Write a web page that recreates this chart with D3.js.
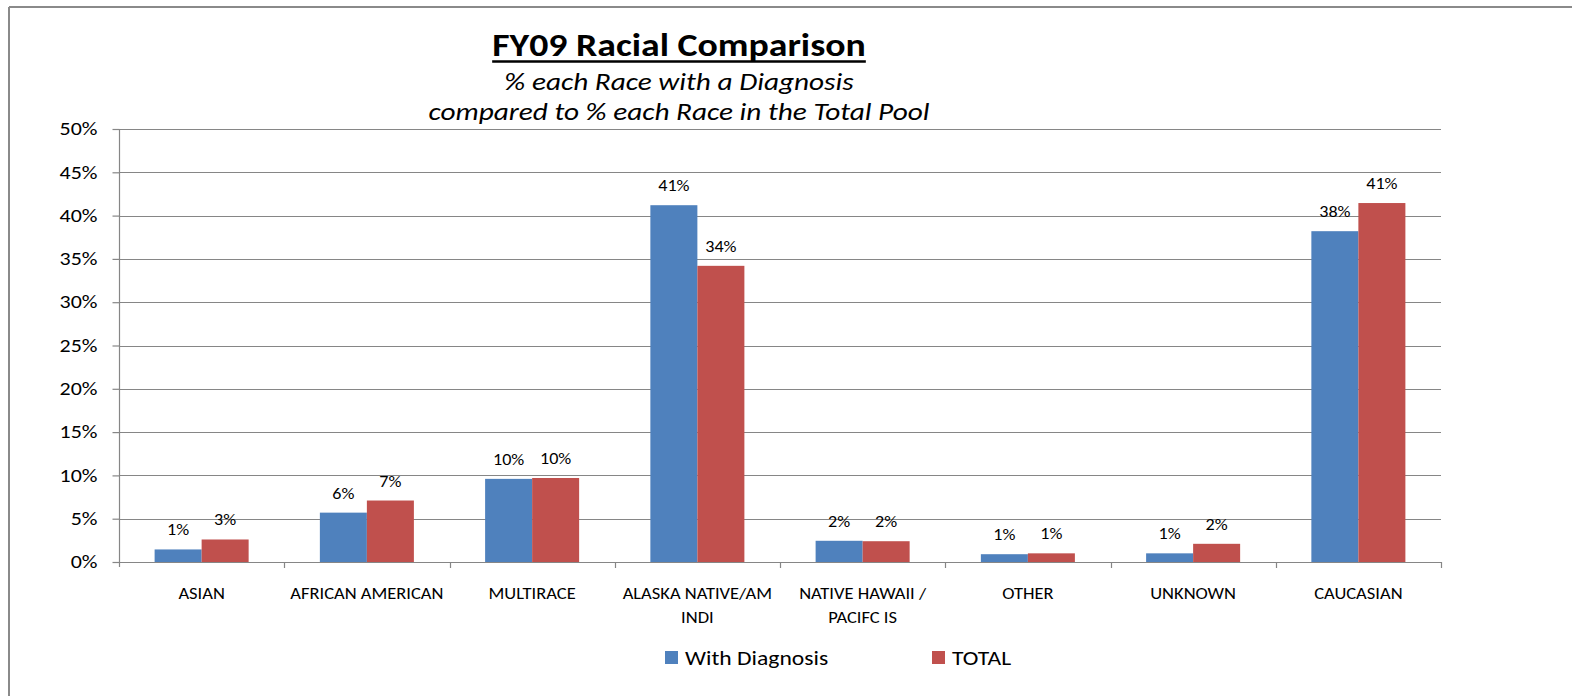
<!DOCTYPE html>
<html>
<head>
<meta charset="utf-8">
<script src="https://cdn.jsdelivr.net/npm/d3@7/dist/d3.min.js"></script>
<style>
  html, body { margin: 0; padding: 0; background: #fff; }
  svg { display: block; }
  text { font-family: Calibri, Carlito, Lato, "Noto Sans", sans-serif; fill: #000; }
</style>
</head>
<body>
<svg id="chart" width="1572" height="696"></svg>
<script>
// ---- data ----
const categories = ["ASIAN", "AFRICAN AMERICAN", "MULTIRACE", "ALASKA NATIVE/AM INDI",
                    "NATIVE HAWAII / PACIFC IS", "OTHER", "UNKNOWN", "CAUCASIAN"];
const seriesNames = ["With Diagnosis", "TOTAL"];
const withDiagnosis = [0.0145, 0.057, 0.096, 0.412, 0.0245, 0.009, 0.010, 0.382];
const totalPool     = [0.026, 0.071, 0.097, 0.342, 0.024, 0.010, 0.021, 0.4145];
const yTicks = [0, 0.05, 0.10, 0.15, 0.20, 0.25, 0.30, 0.35, 0.40, 0.45, 0.50];
const titleText = "FY09 Racial Comparison";
const subtitleLines = ["% each Race with a Diagnosis", "compared to % each Race in the Total Pool"];

// ---- layout ----
const colors = ["#4F81BD", "#C0504D"];
const gridColor = "#868686";
const plot = { left: 119, right: 1441, top: 129, bottom: 562 };

// widen glyphs horizontally (reference text is horizontally stretched)
function stretch(sel, f) {
  sel.each(function () {
    const L = this.getComputedTextLength();
    this.setAttribute("textLength", L * f);
    this.setAttribute("lengthAdjust", "spacingAndGlyphs");
  });
  return sel;
}

const svg = d3.select("#chart");
svg.append("rect").attr("width", 1572).attr("height", 696).attr("fill", "#fff");

// outer border (top and left visible)
svg.append("line").attr("x1", 9).attr("x2", 1572).attr("y1", 7).attr("y2", 7)
  .attr("stroke", "#8a8a8a").attr("stroke-width", 2);
svg.append("line").attr("x1", 9).attr("x2", 9).attr("y1", 7).attr("y2", 696)
  .attr("stroke", "#8a8a8a").attr("stroke-width", 2);

const x = d3.scaleBand().domain(categories)
  .range([plot.left, plot.right]).paddingInner(0.431).paddingOuter(0.2155);
const x1 = d3.scaleBand().domain(seriesNames).range([0, x.bandwidth()]);
const y = d3.scaleLinear().domain([0, 0.5]).range([plot.bottom, plot.top]);

// gridlines
svg.append("g").selectAll("line").data(yTicks.filter(d => d > 0)).join("line")
  .attr("x1", plot.left).attr("x2", plot.right)
  .attr("y1", d => Math.round(y(d)) + 0.5).attr("y2", d => Math.round(y(d)) + 0.5)
  .attr("stroke", gridColor).attr("stroke-width", 1.2);

// y axis
const yAxis = svg.append("g").attr("transform", `translate(${plot.left + 0.5},0)`)
  .call(d3.axisLeft(y).tickValues(yTicks).tickFormat(d3.format(".0%")).tickSize(7).tickSizeOuter(0).tickPadding(15));
yAxis.select(".domain").remove();
yAxis.selectAll(".tick line").attr("stroke", gridColor).attr("stroke-width", 1.2);
yAxis.selectAll(".tick text").attr("font-size", 18).attr("font-family", null).attr("fill", "#000");
stretch(yAxis.selectAll(".tick text"), 1.22);
svg.append("line").attr("x1", plot.left + 0.5).attr("x2", plot.left + 0.5)
  .attr("y1", plot.top).attr("y2", plot.bottom + 5)
  .attr("stroke", gridColor).attr("stroke-width", 1.2);

// bars
const data = categories.map((c, i) => ({ cat: c, vals: [withDiagnosis[i], totalPool[i]] }));
const groups = svg.append("g").selectAll("g").data(data).join("g")
  .attr("transform", d => `translate(${x(d.cat)},0)`);
groups.selectAll("rect").data(d => d.vals.map((v, k) => ({ s: seriesNames[k], v, k }))).join("rect")
  .attr("x", d => x1(d.s)).attr("width", x1.bandwidth())
  .attr("y", d => y(d.v)).attr("height", d => y(0) - y(d.v))
  .attr("fill", d => colors[d.k]);
const vlabels = groups.selectAll("text").data(d => d.vals.map((v, k) => ({ s: seriesNames[k], v, k }))).join("text")
  .attr("x", d => x1(d.s) + x1.bandwidth() / 2)
  .attr("y", d => y(d.v) - 14)
  .attr("text-anchor", "middle").attr("font-size", 16)
  .text(d => d3.format(".0%")(d.v));
stretch(vlabels, 1.13);

// x axis line + ticks
svg.append("line").attr("x1", plot.left).attr("x2", plot.right)
  .attr("y1", plot.bottom + 0.5).attr("y2", plot.bottom + 0.5)
  .attr("stroke", gridColor).attr("stroke-width", 1.2);
const bounds = d3.range(categories.length + 1).map(i => plot.left + i * x.step());
svg.append("g").selectAll("line").data(bounds.slice(1)).join("line")
  .attr("x1", d => Math.round(d) + 0.5).attr("x2", d => Math.round(d) + 0.5)
  .attr("y1", plot.bottom).attr("y2", plot.bottom + 6)
  .attr("stroke", gridColor).attr("stroke-width", 1.2);

// category labels (wrapped to band width)
const catG = svg.append("g");
const catStretch = 1.12, catSize = 16.5;
categories.forEach(c => {
  const cx = x(c) + x.bandwidth() / 2;
  const measure = catG.append("text").attr("font-size", catSize).attr("x", -1000).attr("y", -1000);
  const lines = [];
  let line = [];
  c.split(" ").forEach(w => {
    const trial = line.concat([w]).join(" ");
    measure.text(trial);
    if (line.length && measure.node().getComputedTextLength() * catStretch > x.step() - 2) {
      lines.push(line.join(" "));
      line = [w];
    } else {
      line.push(w);
    }
  });
  lines.push(line.join(" "));
  measure.remove();
  lines.forEach((ln, i) => {
    const t = catG.append("text").attr("text-anchor", "middle").attr("font-size", catSize)
      .attr("x", cx).attr("y", 599 + i * 23.5).text(ln);
    stretch(t, catStretch);
  });
});

// title
const title = svg.append("text").attr("x", 679).attr("y", 56).attr("text-anchor", "middle")
  .attr("font-size", 33).attr("font-weight", "bold").text(titleText);
stretch(title, 1.145);
const tb = title.node().getBBox();
svg.append("line").attr("x1", tb.x).attr("x2", tb.x + tb.width)
  .attr("y1", 61.5).attr("y2", 61.5).attr("stroke", "#000").attr("stroke-width", 2.5);

subtitleLines.forEach((s, i) => {
  const t = svg.append("text").attr("x", 679).attr("y", 90 + i * 30).attr("text-anchor", "middle")
    .attr("font-size", 24).attr("font-style", "italic").text(s);
  stretch(t, 1.22);
});

// legend
const legendX = [665, 932];
seriesNames.forEach((s, i) => {
  svg.append("rect").attr("x", legendX[i]).attr("y", 651).attr("width", 13).attr("height", 13)
    .attr("fill", colors[i]);
  const t = svg.append("text").attr("x", legendX[i] + 20).attr("y", 665).attr("font-size", 20).text(s);
  stretch(t, 1.18);
});
</script>
</body>
</html>
